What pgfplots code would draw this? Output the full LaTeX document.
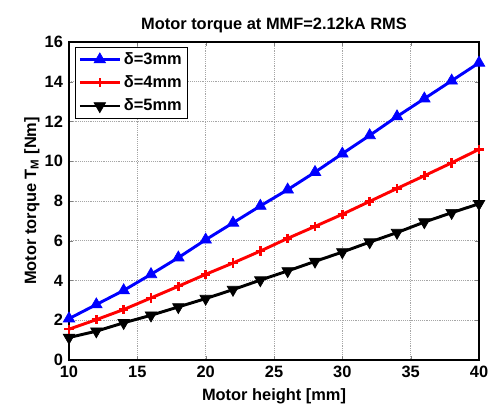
\documentclass[border=0pt]{standalone}
\usepackage{fontspec}
\setmainfont{Liberation Sans}
\usepackage{pgfplots}
\pgfplotsset{compat=1.18}

\begin{document}
\begin{tikzpicture}
\begin{axis}[
  scale only axis,
  width=307.5pt, height=238.5pt,
  xmin=10, xmax=40, ymin=0, ymax=16,
  xtick={10,15,...,40}, ytick={0,2,...,16},
  tick align=inside, major tick length=3pt,
  grid=major, grid style={densely dotted, gray!70, line width=0.5pt},
  axis line style={line width=0.8pt},
  /pgf/number format/assume math mode=true,
  tick label style={font=\fontsize{12.3}{14}\selectfont\bfseries},
  xticklabel style={yshift=-1pt},
  yticklabel style={xshift=-1pt},
  label style={font=\fontsize{12.3}{14}\selectfont\bfseries},
  title style={font=\fontsize{12.3}{14}\selectfont\bfseries, yshift=-3pt},
  title={Motor torque at MMF=2.12kA RMS},
  xlabel={Motor height [mm]},
  ylabel={Motor torque T\textsubscript{M} [Nm]},
  xlabel style={yshift=-1pt},
  ylabel style={yshift=-3pt},
  legend style={at={(0.015,0.985)}, anchor=north west,
    font=\fontsize{12.3}{14}\selectfont\bfseries,
    draw=black, line width=0.8pt, inner sep=2pt, row sep=3pt},
  legend cell align=left,
  legend image code/.code={\draw[mark repeat=2,mark phase=2] plot coordinates {(0pt,0pt)(15pt,0pt)(30pt,0pt)};},
  every axis plot/.append style={line width=2.2pt},
]
\addplot[blue, mark=triangle*, mark size=5pt, mark options={solid, line width=0.5pt}] coordinates {
  (10,2.08)(12,2.79)(14,3.50)(16,4.31)(18,5.15)(20,6.05)(22,6.90)(24,7.75)
  (26,8.57)(28,9.45)(30,10.38)(32,11.30)(34,12.25)(36,13.15)(38,14.05)(40,14.95)};
\addplot[red, mark=+, mark size=3.5pt, mark options={solid, line width=1.8pt}] coordinates {
  (10,1.55)(12,2.03)(14,2.54)(16,3.12)(18,3.71)(20,4.31)(22,4.88)(24,5.48)
  (26,6.12)(28,6.72)(30,7.33)(32,7.98)(34,8.63)(36,9.27)(38,9.92)(40,10.60)};
\addplot[black, mark=triangle*, mark size=5pt, mark options={solid, rotate=180, line width=0.5pt}] coordinates {
  (10,1.13)(12,1.45)(14,1.87)(16,2.25)(18,2.67)(20,3.09)(22,3.54)(24,4.02)
  (26,4.48)(28,4.96)(30,5.43)(32,5.93)(34,6.41)(36,6.94)(38,7.41)(40,7.86)};
\legend{δ=3mm, δ=4mm, δ=5mm}
\end{axis}
\pgfresetboundingbox
\path (current axis.south west) ++(-51.75pt,-33.75pt) coordinate (bl);
\path (current axis.north east) ++(11.25pt,31.5pt) coordinate (tr);
\path (bl) rectangle (tr);
\end{tikzpicture}
\end{document}
